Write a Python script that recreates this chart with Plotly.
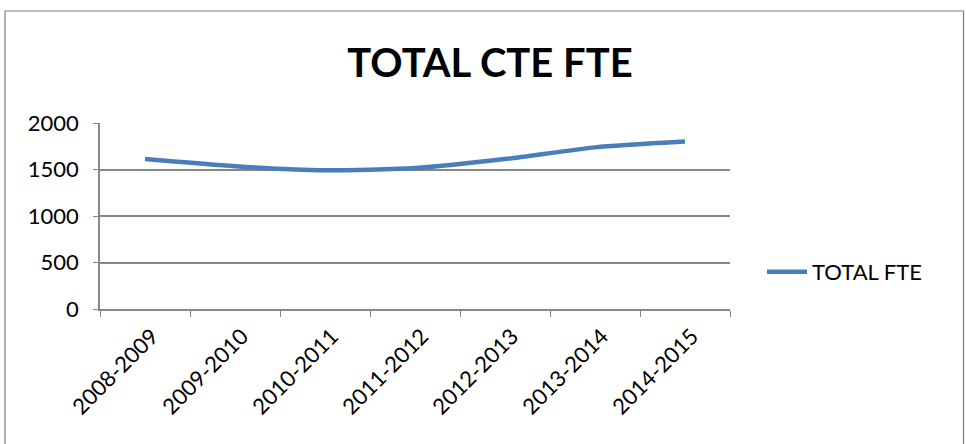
import plotly.graph_objects as go

categories = ["2008-2009", "2009-2010", "2010-2011", "2011-2012", "2012-2013", "2013-2014", "2014-2015"]
total_fte = [1612, 1535, 1492, 1515, 1612, 1738, 1800]
series_name = "TOTAL FTE"
title_text = "TOTAL CTE FTE"

W, H = 966, 444
L, R, T, B = 100, 236, 123, 135
pw, ph = W - L - R, H - T - B

def px_x(x):
    return (x - L) / pw

def px_y(y):
    return (H - B - y) / ph

font = "Lato, 'Open Sans', sans-serif"
grid = "#878787"

fig = go.Figure()
fig.add_trace(go.Scatter(
    x=categories, y=total_fte, name=series_name, mode="lines",
    line=dict(color="#4A7EBB", width=4.5, shape="spline", smoothing=0.6),
))

fig.update_layout(
    width=W, height=H,
    margin=dict(l=L, r=R, t=T, b=B),
    paper_bgcolor="white", plot_bgcolor="white",
    font=dict(family=font, color="black", size=22),
    title=dict(text="<b>" + title_text + "</b>", x=px_x(490), xref="paper", xanchor="center",
               y=1 - 63 / H, yanchor="middle", font=dict(size=40, family=font)),
    showlegend=True,
    legend=dict(x=px_x(762), y=px_y(272), xanchor="left", yanchor="middle",
                font=dict(size=22, family=font), bgcolor="rgba(0,0,0,0)",
                itemwidth=40),
    xaxis=dict(type="category", range=[-0.5, 6.5], showgrid=False,
               showline=True, linecolor=grid, linewidth=1.5,
               ticks="outside", tickson="boundaries", ticklen=6, tickcolor=grid,
               tickangle=-45, ticklabelshift=7, ticklabelstandoff=4,
               tickfont=dict(size=22, family=font)),
    yaxis=dict(range=[0, 2000], tickvals=[0, 500, 1000, 1500, 2000],
               showgrid=True, gridcolor=grid, gridwidth=1.5,
               showline=True, linecolor=grid, linewidth=1.5,
               ticks="outside", ticklen=5, tickcolor=grid, ticklabelstandoff=10,
               tickfont=dict(size=22, family=font), zeroline=False),
    shapes=[dict(type="rect", xref="paper", yref="paper",
                 x0=px_x(5), x1=px_x(963.5), y0=px_y(470), y1=px_y(11),
                 line=dict(color="#7F7F7F", width=1.2), fillcolor="rgba(0,0,0,0)", layer="below")],
)

fig.write_html("out.html", config={"displayModeBar": False},
               post_script="document.body.style.margin='0px';document.body.style.overflow='hidden';")
